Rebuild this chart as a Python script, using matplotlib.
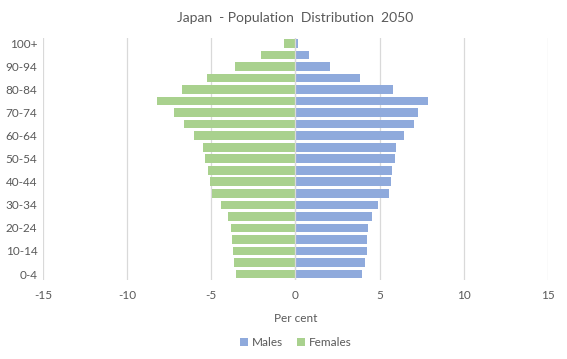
import matplotlib.pyplot as plt
import numpy as np

# Age groups, bottom to top
age_groups = ['0-4', '5-9', '10-14', '15-19', '20-24', '25-29', '30-34', '35-39',
              '40-44', '45-49', '50-54', '55-59', '60-64', '65-69', '70-74',
              '75-79', '80-84', '85-89', '90-94', '95-99', '100+']

# Per cent of population
males = [3.98, 4.15, 4.22, 4.26, 4.32, 4.52, 4.92, 5.53, 5.70, 5.76, 5.94,
         6.00, 6.47, 7.01, 7.29, 7.89, 5.81, 3.85, 2.06, 0.82, 0.17]
females = [3.53, 3.63, 3.70, 3.76, 3.83, 4.00, 4.41, 4.95, 5.10, 5.18, 5.38,
           5.48, 6.02, 6.62, 7.20, 8.22, 6.73, 5.25, 3.59, 2.04, 0.67]

x_ticks = [-15, -10, -5, 0, 5, 10, 15]

text_color = '#595959'
plt.rcParams['font.family'] = ['Lato', 'DejaVu Sans']

fig = plt.figure(figsize=(5.67, 3.59), dpi=100)
ax = fig.add_axes([0.0758, 0.2206, 0.8907, 0.6744])

y = np.arange(len(age_groups))
ax.barh(y, males, height=0.75, color='#8faadc', label='Males', zorder=2)
ax.barh(y, [-f for f in females], height=0.75, color='#a9d18e', label='Females', zorder=2)

ax.set_xlim(-15, 15)
ax.set_ylim(-0.5, len(age_groups) - 0.5)
ax.set_xticks(x_ticks)
ax.set_xticklabels([str(t) for t in x_ticks])
ax.set_yticks(y[::2])
ax.set_yticklabels(age_groups[::2])
ax.tick_params(axis='both', length=0, colors=text_color, labelsize=8.5)
ax.tick_params(axis='x', pad=7)
ax.tick_params(axis='y', pad=4)

ax.grid(axis='x', color='#d9d9d9', linewidth=0.9, zorder=0)
ax.axvline(0, color='#d9d9d9', linewidth=0.9, zorder=3)
for s in ax.spines.values():
    s.set_visible(False)

ax.set_xlabel('Per cent', color=text_color, fontsize=8.5, labelpad=9)
ax.set_title('Japan  - Population  Distribution  2050', color=text_color,
             fontsize=10, pad=11)

ax.legend(loc='center', bbox_to_anchor=(0.5, -0.26), ncol=2, frameon=False,
          fontsize=8.5, labelcolor=text_color, handlelength=0.7, handleheight=0.7,
          handletextpad=0.3, columnspacing=1.2)

fig.savefig('out.png', dpi=100)
